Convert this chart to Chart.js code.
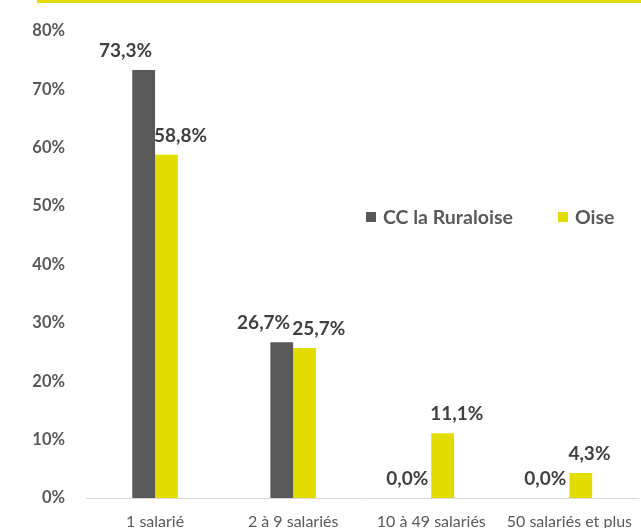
<!DOCTYPE html>
<html>
<head>
<meta charset="utf-8">
<script src="https://cdn.jsdelivr.net/npm/chart.js@4"></script>
<style>
  html, body { margin: 0; padding: 0; background: #fff; overflow: hidden; }
  #wrap { position: relative; width: 646px; height: 529px; }
  #topline { position: absolute; left: 37px; top: 0; width: 620px; height: 3px; background: #e2dc00; }
  #legend { position: absolute; left: 366px; top: 205px; width: 280px; display: flex; white-space: nowrap;
            font-family: Lato, sans-serif; font-weight: bold; font-size: 19.5px; line-height: 24px; color: #595959; }
  #legend .item { display: flex; align-items: center; margin-right: 45px; }
  #legend .box { width: 10px; height: 10px; margin-right: 7px; flex: none; }
</style>
</head>
<body>
<div id="wrap">
  <div id="topline"></div>
  <canvas id="chart" width="646" height="529"></canvas>
  <div id="legend"></div>
</div>
<script>
  const categories = ["1 salarié", "2 à 9 salariés", "10 à 49 salariés", "50 salariés et plus"];
  const seriesNames = ["CC la Ruraloise", "Oise"];
  const ruraloise = [73.3, 26.7, 0.0, 0.0];
  const oise = [58.8, 25.7, 11.1, 4.3];
  const yTicks = [0, 10, 20, 30, 40, 50, 60, 70, 80];

  const colors = ["#595959", "#e2dc00"];
  const fontFamily = "Lato, sans-serif";

  // value labels, placed like the excel original (left one to the right edge, right one from the left edge)
  const valueLabels = {
    id: "valueLabels",
    afterDatasetsDraw(chart) {
      const ctx = chart.ctx;
      ctx.save();
      ctx.font = "bold 19px " + fontFamily;
      ctx.fillStyle = "#404040";
      ctx.textBaseline = "middle";
      chart.data.datasets.forEach((ds, i) => {
        chart.getDatasetMeta(i).data.forEach((bar, j) => {
          const txt = ds.data[j].toFixed(1).replace(".", ",") + "%";
          const half = bar.width / 2;
          let x;
          if (i === 0) {
            ctx.textAlign = "right";
            x = bar.x + half - 3;
          } else {
            ctx.textAlign = "left";
            x = bar.x - half - 1;
          }
          ctx.fillText(txt, x, bar.y - 19);
        });
      });
      ctx.restore();
    },
  };

  const chart = new Chart(document.getElementById("chart"), {
    type: "bar",
    data: {
      labels: categories,
      datasets: [
        { label: seriesNames[0], data: ruraloise, backgroundColor: colors[0] },
        { label: seriesNames[1], data: oise, backgroundColor: colors[1] },
      ],
    },
    options: {
      responsive: false,
      animation: false,
      layout: { padding: { top: 18, left: 0, right: 0, bottom: 0 } },
      datasets: { bar: { barPercentage: 1, categoryPercentage: 0.33 } },
      plugins: {
        legend: { display: false },
        tooltip: { enabled: false },
      },
      scales: {
        x: {
          grid: { display: false, drawTicks: false },
          border: { display: true, color: "#d9d9d9", width: 1 },
          ticks: {
            color: "#595959",
            padding: 14,
            maxRotation: 0,
            autoSkip: false,
            font: { family: fontFamily, size: 16 },
          },
          afterFit(scale) { scale.height = 30; },
        },
        y: {
          min: yTicks[0],
          max: yTicks[yTicks.length - 1],
          afterBuildTicks(scale) { scale.ticks = yTicks.map((v) => ({ value: v })); },
          grid: { display: false, drawTicks: false },
          border: { display: false },
          ticks: {
            color: "#595959",
            padding: 21,
            font: { family: fontFamily, size: 16.5, weight: "bold" },
            callback: (v) => v + "%",
          },
          afterFit(scale) { scale.width = 86; },
        },
      },
    },
    plugins: [valueLabels],
  });

  // html legend from the datasets
  const legend = document.getElementById("legend");
  chart.data.datasets.forEach((ds) => {
    const item = document.createElement("div");
    item.className = "item";
    const box = document.createElement("span");
    box.className = "box";
    box.style.background = ds.backgroundColor;
    const label = document.createElement("span");
    label.textContent = ds.label;
    item.appendChild(box);
    item.appendChild(label);
    legend.appendChild(item);
  });
</script>
</body>
</html>
